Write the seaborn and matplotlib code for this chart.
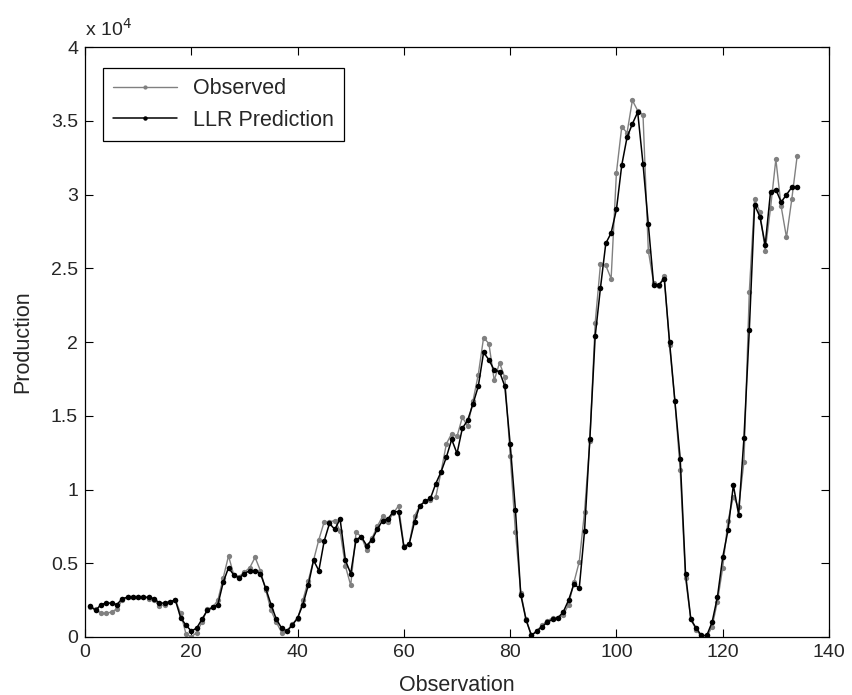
import numpy as np
import pandas as pd
import matplotlib
matplotlib.use("Agg")
import matplotlib.pyplot as plt
import seaborn as sns

# observation index and production values (in units of 10^4)
obs_idx = list(range(1, 135))

observed = [
    0.20, 0.19, 0.16, 0.16, 0.17, 0.19, 0.25, 0.27, 0.27, 0.27,
    0.27, 0.26, 0.25, 0.21, 0.22, 0.24, 0.25, 0.16, 0.02, 0.00,
    0.03, 0.10, 0.19, 0.20, 0.25, 0.40, 0.55, 0.42, 0.41, 0.44,
    0.47, 0.54, 0.45, 0.32, 0.18, 0.10, 0.03, 0.04, 0.09, 0.12,
    0.25, 0.38, 0.52, 0.66, 0.78, 0.78, 0.79, 0.72, 0.48, 0.35,
    0.71, 0.68, 0.59, 0.67, 0.75, 0.82, 0.78, 0.84, 0.89, 0.62,
    0.63, 0.82, 0.89, 0.92, 0.93, 0.95, 1.12, 1.31, 1.38, 1.36,
    1.49, 1.43, 1.60, 1.78, 2.03, 1.99, 1.74, 1.86, 1.76, 1.23,
    0.71, 0.30, 0.12, 0.01, 0.04, 0.08, 0.11, 0.13, 0.13, 0.15,
    0.22, 0.37, 0.51, 0.85, 1.33, 2.13, 2.53, 2.52, 2.43, 3.15,
    3.46, 3.42, 3.64, 3.57, 3.54, 2.62, 2.40, 2.38, 2.45, 1.98,
    1.60, 1.13, 0.40, 0.12, 0.05, 0.00, 0.00, 0.07, 0.24, 0.47,
    0.79, 0.95, 0.88, 1.19, 2.34, 2.97, 2.88, 2.62, 2.91, 3.24,
    2.92, 2.71, 2.97, 3.26,
]

llr_pred = [
    0.21, 0.18, 0.22, 0.23, 0.23, 0.22, 0.26, 0.27, 0.27, 0.27,
    0.27, 0.27, 0.26, 0.23, 0.23, 0.24, 0.25, 0.13, 0.08, 0.04,
    0.06, 0.12, 0.18, 0.20, 0.22, 0.37, 0.47, 0.42, 0.40, 0.43,
    0.45, 0.45, 0.43, 0.33, 0.22, 0.12, 0.06, 0.04, 0.08, 0.13,
    0.22, 0.35, 0.52, 0.45, 0.65, 0.77, 0.73, 0.80, 0.52, 0.43,
    0.66, 0.68, 0.62, 0.66, 0.73, 0.79, 0.80, 0.85, 0.85, 0.61,
    0.63, 0.78, 0.89, 0.92, 0.94, 1.04, 1.12, 1.22, 1.34, 1.245,
    1.415, 1.47, 1.58, 1.70, 1.93, 1.88, 1.81, 1.80, 1.70, 1.31,
    0.86, 0.285, 0.115, 0.01, 0.04, 0.07, 0.10, 0.12, 0.13, 0.17,
    0.25, 0.36, 0.33, 0.72, 1.345, 2.04, 2.37, 2.67, 2.74, 2.90,
    3.20, 3.39, 3.48, 3.56, 3.21, 2.80, 2.39, 2.39, 2.43, 2.00,
    1.60, 1.21, 0.43, 0.12, 0.06, 0.01, 0.01, 0.10, 0.27, 0.54,
    0.725, 1.03, 0.83, 1.35, 2.08, 2.93, 2.85, 2.66, 3.02, 3.035,
    2.95, 3.00, 3.05, 3.05,
]

x_ticks = [0, 20, 40, 60, 80, 100, 120, 140]
y_ticks = [0, 0.5, 1, 1.5, 2, 2.5, 3, 3.5, 4]
y_ticklabels = ['0', '0.5', '1', '1.5', '2', '2.5', '3', '3.5', '4']

sns.set_theme(style="ticks")
plt.rcParams['font.family'] = ['Liberation Sans', 'DejaVu Sans']
text_col = '#262626'

fig, ax = plt.subplots(figsize=(8.52, 6.95), dpi=100)
fig.subplots_adjust(left=0.0998, right=0.973, bottom=0.0835, top=0.932)

sns.lineplot(x=obs_idx, y=observed, ax=ax, color='#808080', linewidth=1.0,
             marker='o', markersize=3.8, markeredgewidth=0, label='Observed')
sns.lineplot(x=obs_idx, y=llr_pred, ax=ax, color='black', linewidth=1.1,
             marker='o', markersize=4.0, markeredgewidth=0, label='LLR Prediction')

ax.set_xlim(0, 140)
ax.set_ylim(0, 4)
ax.set_xticks(x_ticks)
ax.set_yticks(y_ticks)
ax.set_yticklabels(y_ticklabels)
ax.tick_params(direction='in', top=True, right=True, length=5.5, width=0.8,
               labelsize=14, color='black', labelcolor=text_col, pad=5)
for sp in ax.spines.values():
    sp.set_visible(True)
    sp.set_linewidth(0.9)
    sp.set_color('black')

ax.set_xlabel('Observation', fontsize=15.5, labelpad=10, color=text_col)
ax.set_ylabel('Production', fontsize=15.5, labelpad=13, color=text_col)
ax.text(0, 1.012, r'x 10$^{4}$', transform=ax.transAxes, ha='left', va='bottom',
        fontsize=14, color=text_col)

leg = ax.legend(loc='upper left', bbox_to_anchor=(0.024, 0.964), borderaxespad=0,
                fancybox=False, framealpha=1, edgecolor='black', fontsize=15.5,
                handlelength=3.0, handletextpad=0.75, borderpad=0.45,
                labelspacing=0.5, markerscale=0.8)
leg.get_frame().set_linewidth(0.9)
for t in leg.get_texts():
    t.set_color(text_col)

fig.savefig('out.png', dpi=100, facecolor='white')
